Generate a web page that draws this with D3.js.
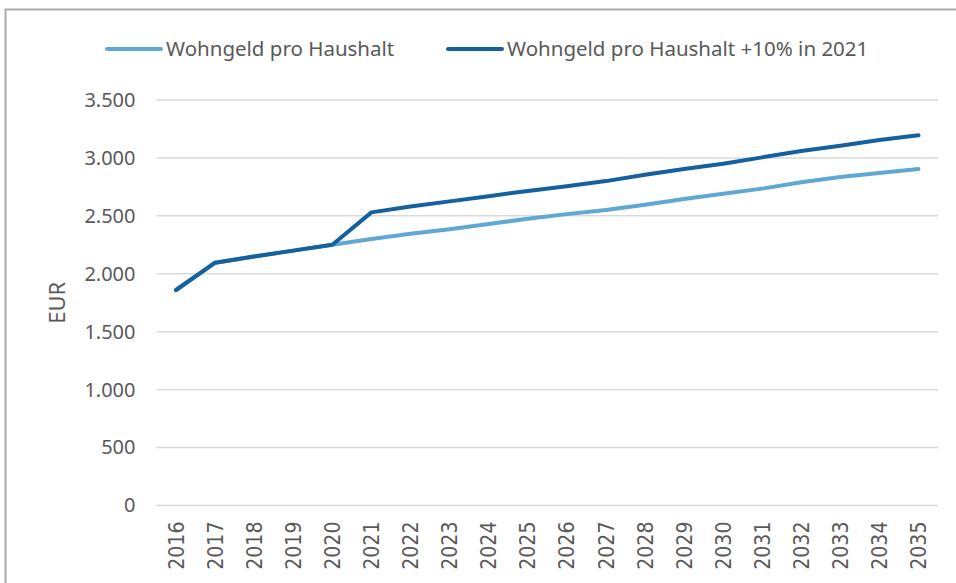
<!DOCTYPE html>
<html>
<head>
<meta charset="utf-8">
<script src="https://cdn.jsdelivr.net/npm/d3@7"></script>
<style>
  body { margin: 0; background: #fff; }
  svg { display: block; }
</style>
</head>
<body>
<div id="chart"></div>
<script>
// Wohngeld pro Haushalt, Projektion 2016-2035
var years = [2016, 2017, 2018, 2019, 2020, 2021, 2022, 2023, 2024, 2025,
             2026, 2027, 2028, 2029, 2030, 2031, 2032, 2033, 2034, 2035];

var basis = [1860, 2096, 2150, 2200, 2250, 2300, 2345, 2385, 2430, 2475,
             2515, 2550, 2595, 2645, 2690, 2735, 2790, 2835, 2870, 2905];

var plus10 = [1860, 2096, 2150, 2200, 2250, 2530, 2580, 2625, 2670, 2715,
              2755, 2800, 2855, 2905, 2950, 3005, 3060, 3105, 3155, 3195];

var yTicks = [0, 500, 1000, 1500, 2000, 2500, 3000, 3500];

var seriesNames = ['Wohngeld pro Haushalt', 'Wohngeld pro Haushalt +10% in 2021'];
var seriesColors = ['#5fa8d3', '#15609f'];

var width = 956, height = 583;
var margin = { top: 100, right: 18, bottom: 77.5, left: 156.5 };
var labelFont = 'Noto Sans, sans-serif';
var labelColor = '#595959';

var svg = d3.select('#chart').append('svg')
    .attr('width', width)
    .attr('height', height);

// outer frame (cut off on the right and bottom)
svg.append('rect')
    .attr('x', 5.5).attr('y', 9.5)
    .attr('width', 1000).attr('height', 1000)
    .attr('fill', 'none')
    .attr('stroke', '#ababab')
    .attr('stroke-width', 2);

var x = d3.scaleBand()
    .domain(years)
    .range([margin.left, width - margin.right]);

var y = d3.scaleLinear()
    .domain([0, 3500])
    .range([height - margin.bottom, margin.top]);

// gridlines
svg.append('g')
    .selectAll('line')
    .data(yTicks)
    .enter().append('line')
    .attr('x1', margin.left)
    .attr('x2', width - margin.right)
    .attr('y1', function(d) { return y(d); })
    .attr('y2', function(d) { return y(d); })
    .attr('stroke', '#d9d9d9')
    .attr('stroke-width', 1.5);

// y axis
var yAxis = svg.append('g')
    .attr('transform', 'translate(' + margin.left + ',0)')
    .call(d3.axisLeft(y)
        .tickValues(yTicks)
        .tickSize(0)
        .tickPadding(21)
        .tickFormat(function(d) { return d3.format(',')(d).replace(/,/g, '.'); }));
yAxis.select('.domain').remove();
yAxis.selectAll('text')
    .attr('font-family', labelFont)
    .attr('font-size', 20)
    .attr('fill', labelColor);

// x axis, years rotated
var xAxis = svg.append('g')
    .attr('transform', 'translate(0,' + y(0) + ')')
    .call(d3.axisBottom(x).tickSize(0).tickPadding(0));
xAxis.select('.domain').remove();
xAxis.selectAll('text')
    .attr('font-family', 'DejaVu Sans, sans-serif')
    .attr('font-size', 19)
    .attr('fill', labelColor)
    .attr('text-anchor', 'end')
    .attr('transform', 'translate(0,16) rotate(-90) scale(1,1.15)')
    .attr('x', 0)
    .attr('y', 0)
    .attr('dy', '0.35em');

// y axis title
svg.append('text')
    .attr('transform', 'translate(57,' + y(1750) + ') rotate(-90)')
    .attr('text-anchor', 'middle')
    .attr('dy', '0.35em')
    .attr('font-family', labelFont)
    .attr('font-size', 22)
    .attr('fill', labelColor)
    .text('EUR');

// lines
var line = d3.line()
    .x(function(d, i) { return x(years[i]) + x.bandwidth() / 2; })
    .y(function(d) { return y(d); });

var series = [basis, plus10];
svg.append('g')
    .selectAll('path')
    .data(series)
    .enter().append('path')
    .attr('d', line)
    .attr('fill', 'none')
    .attr('stroke', function(d, i) { return seriesColors[i]; })
    .attr('stroke-width', 4)
    .attr('stroke-linecap', 'round')
    .attr('stroke-linejoin', 'round');

// legend
var legendX = [107, 448];
var legend = svg.append('g')
    .selectAll('g')
    .data(seriesNames)
    .enter().append('g')
    .attr('transform', function(d, i) { return 'translate(' + legendX[i] + ',49)'; });
legend.append('line')
    .attr('x1', 0).attr('x2', 54)
    .attr('stroke', function(d, i) { return seriesColors[i]; })
    .attr('stroke-width', 4)
    .attr('stroke-linecap', 'round');
legend.append('text')
    .attr('x', 59)
    .attr('dy', '0.35em')
    .attr('font-family', labelFont)
    .attr('font-size', 20.5)
    .attr('fill', labelColor)
    .text(function(d) { return d; });
</script>
</body>
</html>
